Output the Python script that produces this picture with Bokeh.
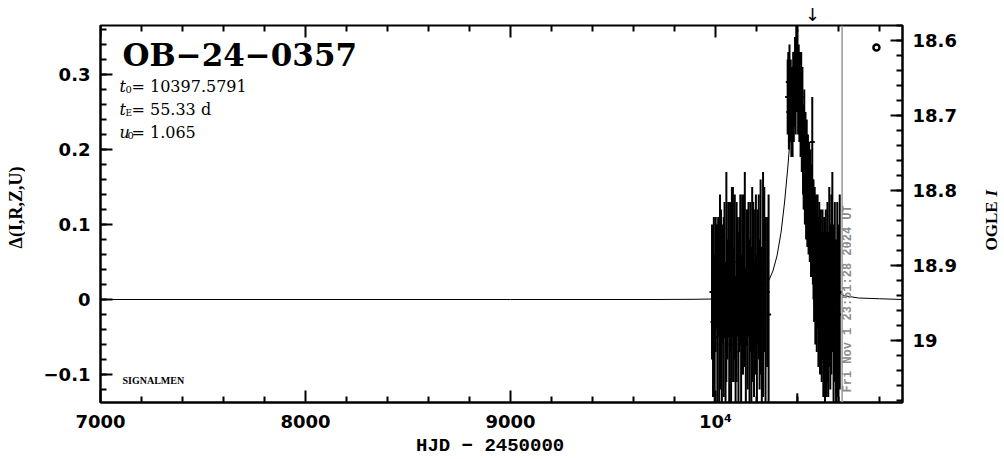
import math
from bokeh.plotting import figure
from bokeh.layouts import row
from bokeh.models import (Range1d, LinearAxis, FixedTicker, Label, Span,
                          ColumnDataSource, CustomJSTickFormatter)
from bokeh.embed import file_html
from bokeh.resources import INLINE

# ---------------- data ----------------
EVENT = "OB\u221224\u22120357"
T0_TEXT = "= 10397.5791"
TE_TEXT = "= 55.33  d"
U0_TEXT = "= 1.065"
STAMP = "Fri Nov  1 23:51:28 2024 UT"
X_LABEL = "HJD  \u2212  2450000"
Y_LABEL = "\u0394(I,R,Z,U)"
NOW_HJD = 10617.5
ARROW_HJD = 10473
MARK_HJD, MARK_D = 10785, 0.336

X_MAJOR = [7000, 8000, 9000, 10000]
X_MINOR = [t for t in range(7200, 11000, 200) if t % 1000]
Y_MAJOR = [-0.1, 0.0, 0.1, 0.2, 0.3]
Y_MINOR = [round(-0.12 + 0.02 * i, 2) for i in range(25)]
MAG_MAJOR = [18.6, 18.7, 18.8, 18.9, 19.0]
MAG_MINOR = [round(18.58 + 0.02 * i, 2) for i in range(26)]

S1_T = [9983, 9988, 9992, 9996, 10001, 10005, 10009, 10013, 10018, 10022,
        10027, 10031, 10036, 10040, 10044, 10049, 10053, 10058, 10062, 10067,
        10071, 10076, 10080, 10085, 10089, 10094, 10098, 10103, 10107, 10112,
        10116, 10121, 10125, 10130, 10134, 10139, 10143, 10148, 10152, 10157,
        10161, 10166, 10170, 10175, 10179, 10184, 10188, 10193, 10197, 10202,
        10206, 10211, 10215, 10220, 10226, 10232, 10238, 10244, 10252, 10259]
S1_Y = [0.01, -0.03, 0.03, -0.05, 0.02, 0.03, -0.02, 0.03, -0.06, 0.01,
        0.03, -0.04, 0.02, -0.01, 0.04, -0.05, 0.03, 0.00, 0.04, -0.03,
        0.03, -0.06, 0.02, 0.05, -0.02, 0.03, -0.07, 0.01, 0.03, -0.04,
        0.02, 0.04, -0.05, 0.02, -0.01, 0.03, 0.04, -0.06, 0.03, 0.00,
        0.04, -0.03, 0.03, -0.05, 0.02, 0.03, -0.04, 0.01, 0.04, -0.06,
        0.03, 0.03, -0.02, 0.03, -0.05, 0.02, 0.04, -0.03, 0.01, -0.02]
S1_E = [0.09, 0.10, 0.08, 0.11, 0.09, 0.07, 0.12, 0.08, 0.10, 0.13,
        0.09, 0.11, 0.08, 0.12, 0.09, 0.10, 0.14, 0.08, 0.09, 0.11,
        0.10, 0.12, 0.13, 0.10, 0.09, 0.11, 0.10, 0.12, 0.08, 0.13,
        0.09, 0.10, 0.11, 0.12, 0.09, 0.11, 0.13, 0.10, 0.09, 0.12,
        0.09, 0.11, 0.10, 0.12, 0.13, 0.10, 0.09, 0.11, 0.10, 0.12,
        0.09, 0.11, 0.10, 0.13, 0.12, 0.15, 0.11, 0.14, 0.10, 0.16]

S2_T = [10352, 10355, 10358, 10361, 10364, 10367, 10370, 10373, 10376, 10379,
        10382, 10385, 10388, 10391, 10394, 10397, 10399, 10400, 10403, 10406,
        10409, 10412, 10415, 10418, 10421, 10424, 10427, 10430, 10433, 10436,
        10439, 10442, 10445, 10448, 10451, 10454, 10457, 10460, 10463, 10466,
        10469, 10472, 10475, 10478, 10481, 10484, 10487, 10490, 10494, 10498,
        10502, 10506, 10510, 10514, 10518, 10522, 10526, 10530, 10534, 10538,
        10542, 10546, 10550, 10555, 10560, 10565, 10570, 10576, 10582, 10588,
        10594, 10600, 10606]
S2_Y = [0.27, 0.29, 0.25, 0.30, 0.26, 0.28, 0.24, 0.27, 0.25, 0.29,
        0.26, 0.28, 0.31, 0.27, 0.33, 0.29, -0.20, 0.31, 0.27, 0.30,
        0.26, 0.28, 0.24, 0.27, 0.22, 0.25, 0.20, 0.18, 0.21, 0.16,
        0.18, 0.14, 0.17, 0.13, 0.15, 0.12, 0.14, 0.11, 0.13, 0.10,
        0.12, 0.21, 0.09, 0.08, 0.05, 0.07, 0.03, 0.06, 0.02, 0.05,
        0.01, 0.04, 0.00, 0.03, -0.01, 0.02, -0.02, 0.01, -0.03, 0.02,
        -0.02, 0.01, -0.02, 0.03, -0.01, 0.02, 0.05, -0.02, 0.01, -0.03,
        0.00, -0.02, 0.01]
S2_E = [0.05, 0.04, 0.05, 0.04, 0.05, 0.04, 0.05, 0.04, 0.06, 0.04,
        0.05, 0.05, 0.04, 0.05, 0.05, 0.04, 0.075, 0.05, 0.05, 0.04,
        0.05, 0.05, 0.05, 0.06, 0.05, 0.06, 0.06, 0.06, 0.07, 0.06,
        0.07, 0.06, 0.07, 0.06, 0.07, 0.06, 0.07, 0.06, 0.07, 0.07,
        0.06, 0.06, 0.07, 0.08, 0.08, 0.08, 0.09, 0.08, 0.09, 0.09,
        0.10, 0.09, 0.10, 0.09, 0.10, 0.10, 0.11, 0.10, 0.11, 0.10,
        0.11, 0.12, 0.11, 0.12, 0.11, 0.12, 0.12, 0.12, 0.12, 0.11,
        0.13, 0.12, 0.13]

MODEL_T = [7000, 9000, 9700, 9900, 10000, 10100, 10160, 10200, 10230, 10260,
           10280, 10300, 10320, 10337, 10352, 10367, 10378, 10388, 10398, 10408,
           10418, 10428, 10443, 10458, 10478, 10498, 10528, 10568, 10628, 10698,
           10800, 10912]
MODEL_D = [0.000, 0.000, 0.000, 0.0003, 0.0007, 0.002, 0.0046, 0.0087, 0.0143, 0.0253,
           0.038, 0.0581, 0.0898, 0.130, 0.174, 0.224, 0.255, 0.276, 0.284, 0.276,
           0.255, 0.226, 0.176, 0.130, 0.087, 0.056, 0.029, 0.014, 0.005, 0.002,
           0.001, 0.000]

# ---------------- figure ----------------
X0, X1 = 7000, 10912.2
Y0, Y1 = -0.1373, 0.3653
M0, M1 = 19.0826, 18.58
FRAME_H = 377.0
PX = (Y1 - Y0) / FRAME_H  # data units per pixel on the y axis

p = figure(width=957, height=459, output_backend="svg", toolbar_location=None,
           x_range=Range1d(X0, X1), y_range=Range1d(Y0, Y1),
           min_border_left=75, min_border_right=80, min_border_top=25,
           min_border_bottom=57, background_fill_color="white",
           border_fill_color="white")
p.extra_y_ranges = {"mag": Range1d(M0, M1)}
p.xgrid.visible = False
p.ygrid.visible = False
p.outline_line_color = "black"
p.outline_line_width = 2

fmt_y = CustomJSTickFormatter(code="""
const v = Math.round(tick*100)/100;
if (Math.abs(v) < 1e-9) return "0";
return String(v).replace("-", "\\u2212");
""")
fmt_x = CustomJSTickFormatter(code="""
if (Math.abs(tick-10000) < 1e-6) return "10\\u2074";
return String(Math.round(tick));
""")

def style_axis(ax):
    ax.axis_line_width = 2
    ax.major_tick_in = 12
    ax.major_tick_out = 0
    ax.minor_tick_in = 6
    ax.minor_tick_out = 0
    ax.major_tick_line_width = 2
    ax.minor_tick_line_width = 2
    ax.major_label_text_font = "DejaVu Sans"
    ax.major_label_text_font_style = "bold"
    ax.major_label_text_font_size = "18px"
    ax.major_label_text_color = "black"
    ax.major_label_standoff = 10
    ax.axis_label_text_color = "black"

xax = p.xaxis[0]
xax.ticker = FixedTicker(ticks=X_MAJOR, minor_ticks=X_MINOR)
xax.formatter = fmt_x
style_axis(xax)
xax.major_label_standoff = 8
xax.axis_label = X_LABEL
xax.axis_label_text_font = "Liberation Mono"
xax.axis_label_text_font_style = "bold"
xax.axis_label_text_font_size = "19px"
xax.axis_label_standoff = 0

yax = p.yaxis[0]
yax.ticker = FixedTicker(ticks=Y_MAJOR, minor_ticks=Y_MINOR)
yax.formatter = fmt_y
style_axis(yax)

rax = LinearAxis(y_range_name="mag",
                 ticker=FixedTicker(ticks=MAG_MAJOR, minor_ticks=MAG_MINOR),
                 formatter=fmt_y)
style_axis(rax)
p.add_layout(rax, "right")

# arrow marker above the frame (label-only axis)
aax = LinearAxis(ticker=FixedTicker(ticks=[ARROW_HJD], minor_ticks=[]),
                 formatter=CustomJSTickFormatter(code='return "\\u2193";'),
                 axis_line_color=None, major_tick_line_color=None,
                 minor_tick_line_color=None, major_label_standoff=0,
                 major_label_text_font="DejaVu Sans",
                 major_label_text_font_size="18px",
                 major_label_text_color="black")
try:
    aax.major_label_standoff = -5
except Exception:
    aax.major_label_text_font_size = "14px"
p.add_layout(aax, "above")

# inward tick marks along the top edge, at the same ticks as the bottom axis
p.segment(x0=X_MAJOR, y0=[Y1 - 12 * PX] * len(X_MAJOR), x1=X_MAJOR,
          y1=[Y1] * len(X_MAJOR), line_color="black", line_width=2)
p.segment(x0=X_MINOR, y0=[Y1 - 6 * PX] * len(X_MINOR), x1=X_MINOR,
          y1=[Y1] * len(X_MINOR), line_color="black", line_width=2)

# model curve
p.line(MODEL_T, MODEL_D, line_color="black", line_width=1)

# data with error bars
T = S1_T + S2_T
Y = S1_Y + S2_Y
E = S1_E + S2_E
src = ColumnDataSource(dict(t=T, y=Y, lo=[a - b for a, b in zip(Y, E)],
                            hi=[a + b for a, b in zip(Y, E)]))
p.segment(x0="t", y0="lo", x1="t", y1="hi", source=src,
          line_color="black", line_width=2)
p.scatter(x="t", y="y", source=src, marker="dash", size=5,
          line_color="black", line_width=2)

# current date line + stamp
p.add_layout(Span(location=NOW_HJD, dimension="height", line_color="#999999",
                  line_width=1.5))
p.add_layout(Label(x=NOW_HJD, y=-0.124, x_units="data", y_units="data",
                   x_offset=-1, text=STAMP, angle=math.pi / 2,
                   text_align="left", text_baseline="top",
                   text_font="Liberation Mono", text_font_style="bold",
                   text_font_size="12px", text_color="#8c8c8c"))

# small marker at top right
p.scatter([MARK_HJD], [MARK_D], marker="circle", size=6, fill_color=None,
          line_color="black", line_width=2.5)

def lab(fig, text, x, y, size, font="DejaVu Serif", style="normal",
        color="black", align="left", baseline="alphabetic", angle=0.0):
    fig.add_layout(Label(x=x, y=y, x_units="screen", y_units="screen",
                         text=text, text_font=font, text_font_style=style,
                         text_font_size=f"{size}px", text_color=color,
                         text_align=align, text_baseline=baseline, angle=angle))

# title and parameters
lab(p, EVENT, 22, 348, 31, style="bold")
lab(p, "t", 19, 316, 16, style="italic")
lab(p, "0", 25, 313, 10)
lab(p, T0_TEXT, 31, 316, 16)
lab(p, "t", 19, 293, 16, style="italic")
lab(p, "E", 25, 290, 9)
lab(p, TE_TEXT, 31, 293, 16)
lab(p, "u", 19, 270, 16, style="italic")
lab(p, "0", 27, 267, 10)
lab(p, U0_TEXT, 31, 270, 16)
lab(p, "SIGNALMEN", 22, 22, 10, font="Liberation Serif", style="bold")

def strip(width):
    f = figure(width=width, height=459, output_backend="svg",
               toolbar_location=None, x_range=Range1d(0, 1),
               y_range=Range1d(0, 1), x_axis_type=None, y_axis_type=None,
               min_border=0, outline_line_color=None,
               background_fill_color="white", border_fill_color="white")
    f.xgrid.visible = False
    f.ygrid.visible = False
    return f

# left-hand label strip (frame aligned with the main plot)
p0 = strip(25)
lab(p0, Y_LABEL, 15, 195, 18, font="Liberation Serif", style="bold",
    align="center", baseline="middle", angle=math.pi / 2)

# right-hand label strip
p2 = strip(22)
lab(p2, "OGLE", 9, 152, 17, font="Liberation Serif", style="bold",
    baseline="middle", angle=math.pi / 2)
lab(p2, "I", 9, 206, 17, font="Liberation Serif", style="bold italic",
    baseline="middle", angle=math.pi / 2)

layout = row(p0, p, p2, spacing=0)
open("out.html", "w").write(file_html(layout, INLINE))
